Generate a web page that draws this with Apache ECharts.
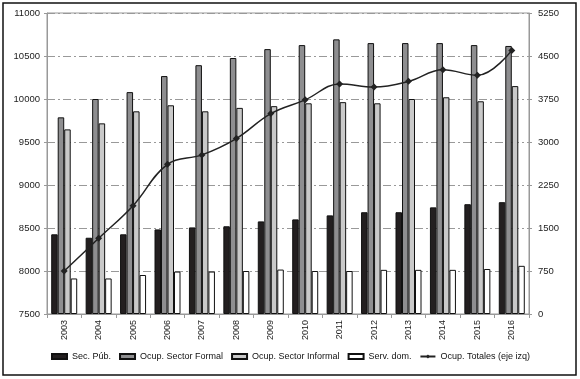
<!DOCTYPE html>
<html>
<head>
<meta charset="utf-8">
<script src="https://cdn.jsdelivr.net/npm/echarts@6/dist/echarts.min.js"></script>
<style>
  html, body { margin: 0; padding: 0; background: #fff; }
  #main { width: 580px; height: 379px; }
</style>
</head>
<body>
<div id="main"></div>
<script>
// años y valores
let years = ['2003', '2004', '2005', '2006', '2007', '2008', '2009', '2010', '2011', '2012', '2013', '2014', '2015', '2016'];
let secPub = [1390, 1330, 1390, 1475, 1510, 1530, 1615, 1650, 1720, 1775, 1775, 1860, 1915, 1950];
let formal = [3430, 3750, 3870, 4150, 4340, 4465, 4620, 4690, 4790, 4725, 4725, 4725, 4690, 4675];
let informal = [3220, 3325, 3535, 3640, 3535, 3595, 3625, 3675, 3695, 3675, 3750, 3780, 3710, 3975];
let servDom = [620, 620, 680, 740, 740, 750, 775, 750, 750, 770, 770, 770, 785, 840];
let totales = [8000, 8380, 8760, 9240, 9350, 9540, 9830, 9990, 10175, 10140, 10205, 10340, 10275, 10565];

let names = ['Sec. Púb.', 'Ocup. Sector Formal', 'Ocup. Sector Informal', 'Serv. dom.', 'Ocup. Totales (eje izq)'];
let colors = ['#231f20', '#8e8e90', '#c9c9c9', '#ffffff'];

let font = 'Liberation Sans, Arial, sans-serif';
let chart = echarts.init(document.getElementById('main'));

function bar(i, values) {
    return {
        name: names[i],
        type: 'bar',
        yAxisIndex: 1,
        barWidth: 6.5,
        barGap: '0%',
        itemStyle: { color: colors[i], borderColor: '#111', borderWidth: 1 },
        emphasis: { disabled: true },
        data: values
    };
}

let plain = v => String(v);

chart.setOption({
    animation: false,
    textStyle: { fontFamily: font },
    grid: {
        left: 47, right: 51, top: 13, bottom: 65,
        show: true, borderColor: '#999', borderWidth: 1
    },
    legend: {
        left: 51, top: 352, padding: 0,
        itemWidth: 15, itemHeight: 5, itemGap: 8,
        textStyle: { fontSize: 9, color: '#111', fontFamily: font },
        data: names.slice(0, 4).map(n => ({ name: n, icon: 'rect' })).concat([{ name: names[4] }])
    },
    xAxis: {
        type: 'category',
        data: years,
        axisLine: { lineStyle: { color: '#999' } },
        axisTick: { show: true, length: 4, lineStyle: { color: '#999' } },
        axisLabel: { rotate: 90, fontSize: 9, color: '#222', margin: 6 }
    },
    yAxis: [
        {
            type: 'value', min: 7500, max: 11000, interval: 500,
            axisLine: { show: true, lineStyle: { color: '#999' } },
            axisTick: { show: true, length: 3, lineStyle: { color: '#999' } },
            axisLabel: { fontSize: 9.5, color: '#222', margin: 7, formatter: plain },
            splitLine: { lineStyle: { color: '#999', type: [8, 3, 2, 3] } }
        },
        {
            type: 'value', min: 0, max: 5250, interval: 750,
            axisLine: { show: true, lineStyle: { color: '#999' } },
            axisTick: { show: true, length: 3, lineStyle: { color: '#999' } },
            axisLabel: { fontSize: 9.5, color: '#222', margin: 9, formatter: plain },
            splitLine: { show: false }
        }
    ],
    graphic: [{
        type: 'rect',
        shape: { x: 3, y: 3, width: 573, height: 372 },
        style: { fill: 'none', stroke: '#111', lineWidth: 1.5 },
        silent: true
    }],
    series: [
        bar(0, secPub),
        bar(1, formal),
        bar(2, informal),
        bar(3, servDom),
        {
            name: names[4],
            type: 'line',
            yAxisIndex: 0,
            smooth: 0.4,
            symbol: 'diamond',
            symbolSize: 7,
            lineStyle: { color: '#222', width: 1.5 },
            itemStyle: { color: '#222' },
            emphasis: { disabled: true },
            data: totales,
            z: 5
        }
    ]
});
</script>
</body>
</html>
